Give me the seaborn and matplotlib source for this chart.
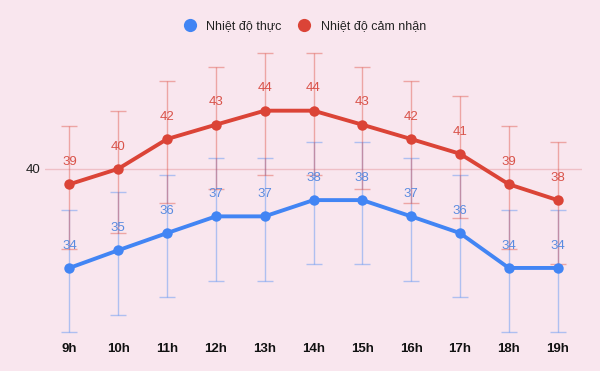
import pandas as pd
import numpy as np
import matplotlib.pyplot as plt
from matplotlib.lines import Line2D
import seaborn as sns

# data
hours = ['9h', '10h', '11h', '12h', '13h', '14h', '15h', '16h', '17h', '18h', '19h']
temp_real = [34, 35, 36, 37, 37, 38, 38, 37, 36, 34, 34]
temp_feel = [39, 40, 42, 43, 44, 44, 43, 42, 41, 39, 38]
# interval ends (about +-10%)
real_low = [30.6, 31.5, 32.4, 33.3, 33.3, 34.2, 34.2, 33.3, 32.4, 30.6, 30.6]
real_high = [37.4, 38.5, 39.6, 40.7, 40.7, 41.8, 41.8, 40.7, 39.6, 37.4, 37.4]
feel_low = [35.1, 36.0, 37.8, 38.7, 39.6, 39.6, 38.7, 37.8, 36.9, 35.1, 34.2]
feel_high = [42.9, 44.0, 46.2, 47.3, 48.4, 48.4, 47.3, 46.2, 45.1, 42.9, 41.8]

name_real = 'Nhiệt độ thực'
name_feel = 'Nhiệt độ cảm nhận'
blue = '#4285F4'
red = '#DB4437'
bg = '#F9E6EE'

df = pd.DataFrame({
    'hour': hours * 2,
    'temp': temp_real + temp_feel,
    'series': [name_real] * len(hours) + [name_feel] * len(hours),
})

sns.set_style('white')
plt.rcParams['font.family'] = ['Liberation Sans', 'DejaVu Sans']

fig = plt.figure(figsize=(6, 3.71), dpi=100, facecolor=bg)
ax = fig.add_axes([0.075, 0.097, 0.895, 0.795])
ax.set_facecolor(bg)

ax.set_yscale('log')
ax.axhline(40, color='#EFBFC6', linewidth=1, zorder=0)

x = np.arange(len(hours))
# error bars
for vals, lo, hi, col in [(temp_real, real_low, real_high, blue), (temp_feel, feel_low, feel_high, red)]:
    vals = np.array(vals)
    yerr = [vals - np.array(lo), np.array(hi) - vals]
    ax.errorbar(x, vals, yerr=yerr, fmt='none', ecolor=col, alpha=0.4,
                elinewidth=1, capsize=6, capthick=1, zorder=1)

df['x'] = df['hour'].map({h: i for i, h in enumerate(hours)})
sns.lineplot(data=df, x='x', y='temp', hue='series', palette={name_real: blue, name_feel: red},
             marker='o', markersize=7.5, markeredgewidth=0, linewidth=2.8, legend=False, ax=ax, zorder=3)

for vals, col in [(temp_real, '#5A8BE0'), (temp_feel, '#D9534A')]:
    for i, v in enumerate(vals):
        ax.annotate(str(v), (i, v), xytext=(0, 16), textcoords='offset points',
                    ha='center', va='center', fontsize=9.5, color=col, zorder=4)

ax.set_xlim(-0.5, len(hours) - 0.5)
ax.set_ylim(30.46, 49.4)
ax.set_xticks(x)
ax.set_xticklabels(hours, fontsize=9.5, fontweight='bold', color='#111111')
ax.set_yticks([40])
ax.set_yticklabels(['40'], fontsize=9.5, color='#222222')
ax.yaxis.set_minor_locator(plt.NullLocator())
ax.tick_params(axis='both', length=0)
ax.tick_params(axis='x', pad=6)
ax.tick_params(axis='y', pad=3)
ax.set_xlabel('')
ax.set_ylabel('')
sns.despine(ax=ax, left=True, bottom=True)

handles = [Line2D([0], [0], marker='o', linestyle='none', markersize=9.5, markeredgewidth=0, color=blue),
           Line2D([0], [0], marker='o', linestyle='none', markersize=9.5, markeredgewidth=0, color=red)]
fig.legend(handles, [name_real, name_feel], loc='center', bbox_to_anchor=(0.503, 0.93),
           ncol=2, frameon=False, fontsize=9, handletextpad=0.3, columnspacing=0.8, labelcolor='#222222')

plt.savefig('out.png', dpi=100, facecolor=bg)
